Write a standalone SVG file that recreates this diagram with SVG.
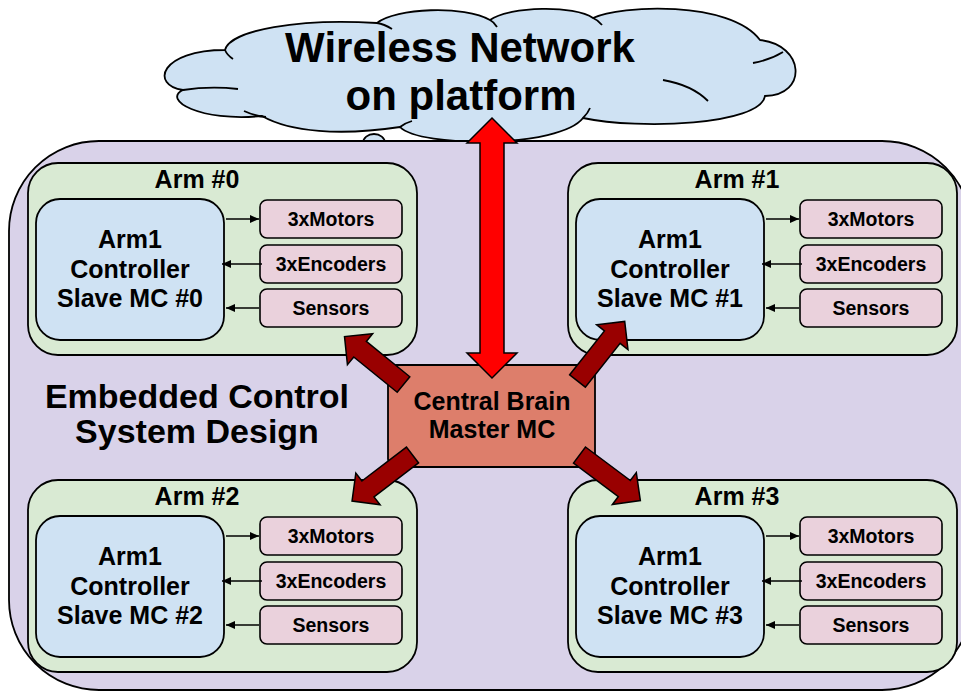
<svg xmlns="http://www.w3.org/2000/svg" xmlns:xlink="http://www.w3.org/1999/xlink" width="961" height="691" viewBox="0 0 961 691">
  <style>
    text { font-family: "Liberation Sans", Arial, sans-serif; font-weight: bold; fill: #000; text-anchor: middle; }
    .outline { stroke: #000; stroke-width: 1.6; }
    .cloud { fill: #cfe2f3; stroke: #000; stroke-width: 1.8; }
    .cloud-inner { fill: none; stroke: #000; stroke-width: 1.8; }
    .platform { fill: #d9d2e9; stroke: #000; stroke-width: 1.8; }
    .arm { fill: #d9ead3; stroke: #000; stroke-width: 1.8; }
    .ctrl { fill: #cfe2f3; stroke: #000; stroke-width: 1.8; }
    .io { fill: #ead1dc; stroke: #000; stroke-width: 1.6; }
    .brain { fill: #dd7e6b; stroke: #000; stroke-width: 1.8; }
    .link { stroke: #000; stroke-width: 1.5; fill: none; marker-end: url(#head); }
    .fat { fill: #990000; stroke: #000; stroke-width: 1.5; stroke-linejoin: miter; }
    .radio { fill: #ff0000; stroke: #000; stroke-width: 1.5; }
    .t-arm { font-size: 25px; }
    .t-io { font-size: 19.5px; }
    .t-big { font-size: 42px; }
    .t-sys { font-size: 34px; }
  </style>
  <defs>
    <marker id="head" markerUnits="userSpaceOnUse" markerWidth="10" markerHeight="9" refX="9" refY="4" orient="auto">
      <path d="M0,0 L9,4 L0,8 Z" fill="#000"/>
    </marker>
    <!-- thick block arrow pointing along +x, tail at origin -->
    <polygon id="fat-arrow" points="0,-10 56,-10 56,-20 76,0 56,20 56,10 0,10"/>
  </defs>

  <!-- wireless network cloud -->
  <g id="cloud">
    <path class="cloud" d="M183,90 C150,85 160,50 225,50 C230,30 300,18 377,23 C395,8 465,5 490,20 C510,6 575,5 593,18 C620,5 730,0 760,40 C805,45 808,95 765,96 C760,125 640,130 583,118 C560,148 420,148 400,127 C340,136 290,132 262,116 C200,122 162,100 183,90 Z"/>
    <path class="cloud-inner" d="M183,90 Q210,86 238,89 M244,111 Q255,116 266,117 M225,50 Q227,55 233,59 M377,23 Q384,24 392,29 M490,20 Q494,22 497,27 M593,18 Q598,20 602,25 M753,63 Q770,60 783,52 M663,80 Q692,85 708,101 M583,118 Q588,113 590,108 M400,127 Q405,123 412,121"/>
    <ellipse class="cloud" cx="374" cy="143" rx="11" ry="9"/>
    <text class="t-big" x="460" y="62">Wireless Network</text>
    <text class="t-big" x="461" y="110">on platform</text>
  </g>

  <!-- platform background -->
  <g id="platform">
    <rect class="platform" x="9" y="141" width="963" height="549" rx="90" ry="90"/>
    <text class="t-sys" x="197" y="408">Embedded Control</text>
    <text class="t-sys" x="197" y="443">System Design</text>
  </g>

  <!-- arm 0 -->
  <g id="arm0">
    <rect class="arm" x="28" y="163" width="389" height="192" rx="30"/>
    <text class="t-arm" x="197" y="188">Arm #0</text>
    <g id="arm0-ctrl">
      <rect class="ctrl" x="36" y="199" width="188" height="141" rx="24"/>
      <text class="t-arm" x="130" y="248">Arm1</text>
      <text class="t-arm" x="130" y="278">Controller</text>
      <text class="t-arm" x="130" y="307">Slave MC #0</text>
    </g>
    <g id="arm0-motors"><rect class="io" x="260" y="200" width="142" height="38" rx="7"/><text class="t-io" x="331" y="226">3xMotors</text></g>
    <g id="arm0-encoders"><rect class="io" x="260" y="245" width="142" height="38" rx="7"/><text class="t-io" x="331" y="271">3xEncoders</text></g>
    <g id="arm0-sensors"><rect class="io" x="260" y="289" width="142" height="38" rx="7"/><text class="t-io" x="331" y="315">Sensors</text></g>
  </g>

  <!-- arm 1 -->
  <g id="arm1" transform="translate(540,0)">
    <rect class="arm" x="28" y="163" width="389" height="192" rx="30"/>
    <text class="t-arm" x="197" y="188">Arm #1</text>
    <g id="arm1-ctrl">
      <rect class="ctrl" x="36" y="199" width="188" height="141" rx="24"/>
      <text class="t-arm" x="130" y="248">Arm1</text>
      <text class="t-arm" x="130" y="278">Controller</text>
      <text class="t-arm" x="130" y="307">Slave MC #1</text>
    </g>
    <g id="arm1-motors"><rect class="io" x="260" y="200" width="142" height="38" rx="7"/><text class="t-io" x="331" y="226">3xMotors</text></g>
    <g id="arm1-encoders"><rect class="io" x="260" y="245" width="142" height="38" rx="7"/><text class="t-io" x="331" y="271">3xEncoders</text></g>
    <g id="arm1-sensors"><rect class="io" x="260" y="289" width="142" height="38" rx="7"/><text class="t-io" x="331" y="315">Sensors</text></g>
  </g>

  <!-- arm 2 -->
  <g id="arm2" transform="translate(0,317)">
    <rect class="arm" x="28" y="163" width="389" height="192" rx="30"/>
    <text class="t-arm" x="197" y="188">Arm #2</text>
    <g id="arm2-ctrl">
      <rect class="ctrl" x="36" y="199" width="188" height="141" rx="24"/>
      <text class="t-arm" x="130" y="248">Arm1</text>
      <text class="t-arm" x="130" y="278">Controller</text>
      <text class="t-arm" x="130" y="307">Slave MC #2</text>
    </g>
    <g id="arm2-motors"><rect class="io" x="260" y="200" width="142" height="38" rx="7"/><text class="t-io" x="331" y="226">3xMotors</text></g>
    <g id="arm2-encoders"><rect class="io" x="260" y="245" width="142" height="38" rx="7"/><text class="t-io" x="331" y="271">3xEncoders</text></g>
    <g id="arm2-sensors"><rect class="io" x="260" y="289" width="142" height="38" rx="7"/><text class="t-io" x="331" y="315">Sensors</text></g>
  </g>

  <!-- arm 3 -->
  <g id="arm3" transform="translate(540,317)">
    <rect class="arm" x="28" y="163" width="389" height="192" rx="30"/>
    <text class="t-arm" x="197" y="188">Arm #3</text>
    <g id="arm3-ctrl">
      <rect class="ctrl" x="36" y="199" width="188" height="141" rx="24"/>
      <text class="t-arm" x="130" y="248">Arm1</text>
      <text class="t-arm" x="130" y="278">Controller</text>
      <text class="t-arm" x="130" y="307">Slave MC #3</text>
    </g>
    <g id="arm3-motors"><rect class="io" x="260" y="200" width="142" height="38" rx="7"/><text class="t-io" x="331" y="226">3xMotors</text></g>
    <g id="arm3-encoders"><rect class="io" x="260" y="245" width="142" height="38" rx="7"/><text class="t-io" x="331" y="271">3xEncoders</text></g>
    <g id="arm3-sensors"><rect class="io" x="260" y="289" width="142" height="38" rx="7"/><text class="t-io" x="331" y="315">Sensors</text></g>
  </g>

  <!-- master controller -->
  <g id="brain">
    <rect class="brain" x="388" y="365" width="207" height="102" rx="8"/>
    <text class="t-arm" x="492" y="410">Central Brain</text>
    <text class="t-arm" x="492" y="438">Master MC</text>
  </g>

  <!-- connectors -->
  <g id="connectors">
    <!-- controller to peripherals, one set per arm -->
    <g id="links-arm0">
      <path class="link" d="M226,219 L259,219"/>
      <path class="link" d="M262,264 L222,264"/>
      <path class="link" d="M259,308 L226,308"/>
    </g>
    <g id="links-arm1" transform="translate(540,0)">
      <path class="link" d="M226,219 L259,219"/>
      <path class="link" d="M262,264 L222,264"/>
      <path class="link" d="M259,308 L226,308"/>
    </g>
    <g id="links-arm2" transform="translate(0,317)">
      <path class="link" d="M226,219 L259,219"/>
      <path class="link" d="M262,264 L222,264"/>
      <path class="link" d="M259,308 L226,308"/>
    </g>
    <g id="links-arm3" transform="translate(540,317)">
      <path class="link" d="M226,219 L259,219"/>
      <path class="link" d="M262,264 L222,264"/>
      <path class="link" d="M259,308 L226,308"/>
    </g>
    <!-- master to each arm -->
    <use xlink:href="#fat-arrow" class="fat" transform="translate(403.5,384.5) rotate(-140.9)"/>
    <use xlink:href="#fat-arrow" class="fat" transform="translate(577.5,381) rotate(-51.6)"/>
    <use xlink:href="#fat-arrow" class="fat" transform="translate(412.5,455) rotate(142.7)"/>
    <use xlink:href="#fat-arrow" class="fat" transform="translate(579.5,455) rotate(36.8)"/>
    <!-- master to wireless network -->
    <polygon class="radio" points="492,118 517,143 504,143 504,353 517,353 492,378 467,353 480,353 480,143 467,143"/>
  </g>
</svg>
